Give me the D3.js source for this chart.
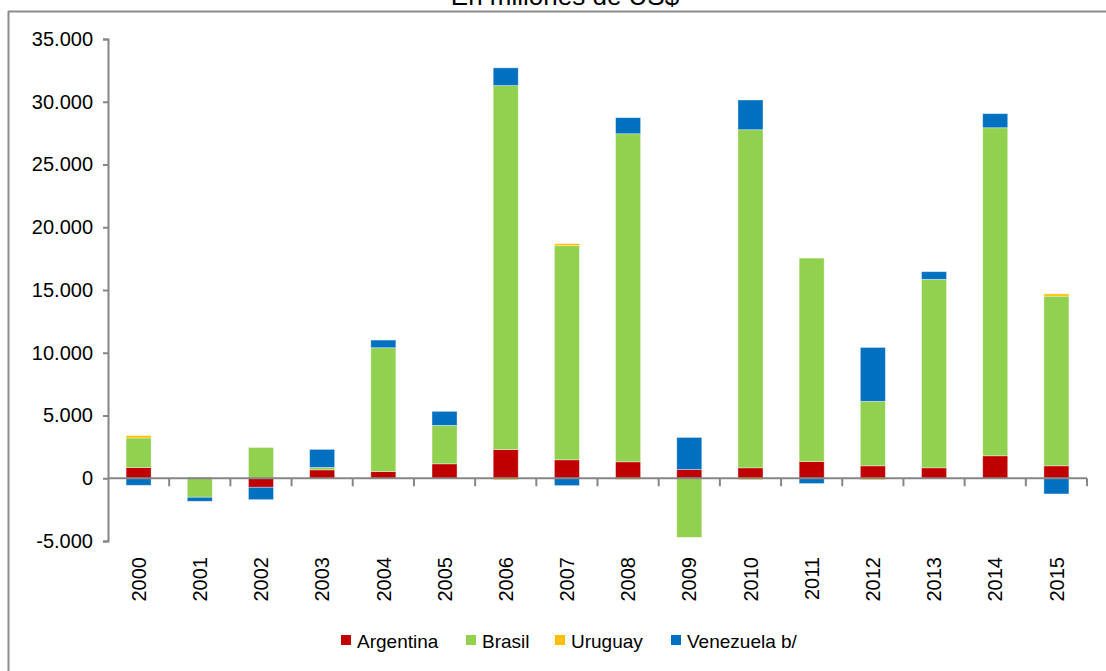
<!DOCTYPE html>
<html><head><meta charset="utf-8">
<script src="https://cdn.jsdelivr.net/npm/d3@7"></script>
<style>body{margin:0;background:#fff}svg{display:block;font-family:"Liberation Sans",Arial,sans-serif}</style>
</head><body>
<script>
const years = ["2000","2001","2002","2003","2004","2005","2006","2007","2008","2009","2010","2011","2012","2013","2014","2015"];
const seriesNames = ["Argentina","Brasil","Uruguay","Venezuela b/"];
const argentina = [850, 60, -720, 670, 530, 1150, 2290, 1470, 1310, 690, 830, 1330, 990, 830, 1790, 990];
const brasil = [2360, -1515, 2450, 190, 9870, 3060, 29000, 17060, 26140, -4710, 26940, 16210, 5140, 15020, 26140, 13520];
const uruguay = [190, 0, 0, 0, 0, 0, -130, 160, -100, 0, -120, 0, -120, 0, 0, 180];
const venezuela = [-560, -320, -985, 1440, 610, 1120, 1410, -585, 1280, 2560, 2370, -420, 4290, 610, 1120, -1250];
const colors = ["#C00000","#92D050","#FFC000","#0070C0"];
const yTicks = [-5000,0,5000,10000,15000,20000,25000,30000,35000];
const fmt = v => d3.format(",")(v).replace(/,/g,".").replace("−","-");

const W=1106,H=671;
const svg=d3.select("body").append("svg").attr("width",W).attr("height",H);

// frame
svg.append("line").attr("x1",8).attr("x2",W+5).attr("y1",11.5).attr("y2",11.5).attr("stroke","#8c8c8c").attr("stroke-width",2);
svg.append("line").attr("x1",8.5).attr("x2",8.5).attr("y1",11).attr("y2",H+5).attr("stroke","#8c8c8c").attr("stroke-width",2);
// title (clipped at top)
svg.append("text").attr("x",565).attr("y",5).attr("text-anchor","middle").attr("font-size",26).attr("fill","#000").text("En millones de US$");

const x=d3.scaleBand().domain(years).range([108,1087]).paddingInner(0).paddingOuter(0);
const y=d3.scaleLinear().domain([-5000,35000]).range([541,39]);

const data=years.map((yr,i)=>({year:yr,"Argentina":argentina[i],"Brasil":brasil[i],"Uruguay":uruguay[i],"Venezuela b/":venezuela[i]}));
const stack=d3.stack().keys(seriesNames).offset(d3.stackOffsetDiverging);
const stacked=stack(data);

const barW=25;
svg.append("g").selectAll("g").data(stacked).join("g").attr("fill",(d,i)=>colors[i])
 .selectAll("rect").data(d=>d).join("rect")
 .attr("x",d=>x(d.data.year)+x.bandwidth()/2-barW/2)
 .attr("width",barW)
 .attr("y",d=>y(Math.max(d[0],d[1])))
 .attr("height",d=>Math.abs(y(d[0])-y(d[1])))
 .attr("stroke","#ffffff").attr("stroke-opacity",0.45).attr("stroke-width",0.8);

// y axis
const yAxis=svg.append("g").attr("transform","translate(108,0)")
 .call(d3.axisLeft(y).tickValues(yTicks).tickSize(5).tickPadding(10).tickFormat(fmt));
yAxis.select(".domain").attr("stroke","#868686").attr("stroke-width",2);
yAxis.selectAll(".tick line").attr("stroke","#868686").attr("stroke-width",2);
yAxis.selectAll(".tick text").attr("font-size",20).attr("fill","#000").attr("font-family","Liberation Sans, Arial, sans-serif");

// x axis at zero
const xg=svg.append("g");
xg.append("line").attr("x1",108).attr("x2",1087).attr("y1",y(0)).attr("y2",y(0)).attr("stroke","#868686").attr("stroke-width",2);
const bounds=years.map(yr=>x(yr)+x.bandwidth()).slice(0);
xg.selectAll("line.tk").data(bounds).join("line").attr("class","tk")
 .attr("x1",d=>d).attr("x2",d=>d).attr("y1",y(0)).attr("y2",y(0)+8).attr("stroke","#868686").attr("stroke-width",2);
xg.selectAll("text").data(years).join("text")
 .attr("transform",d=>`translate(${x(d)+x.bandwidth()/2},557) rotate(-90)`)
 .attr("text-anchor","end").attr("dy","0.36em").attr("font-size",20).attr("fill","#000").text(d=>d);

// legend
const legX=[341,466,555,671];
const lg=svg.append("g");
seriesNames.forEach((s,i)=>{
  lg.append("rect").attr("x",legX[i]).attr("y",635).attr("width",10).attr("height",10).attr("fill",colors[i]);
  lg.append("text").attr("x",legX[i]+16).attr("y",648).attr("font-size",19).attr("fill","#000").text(s);
});
</script>
</body></html>
